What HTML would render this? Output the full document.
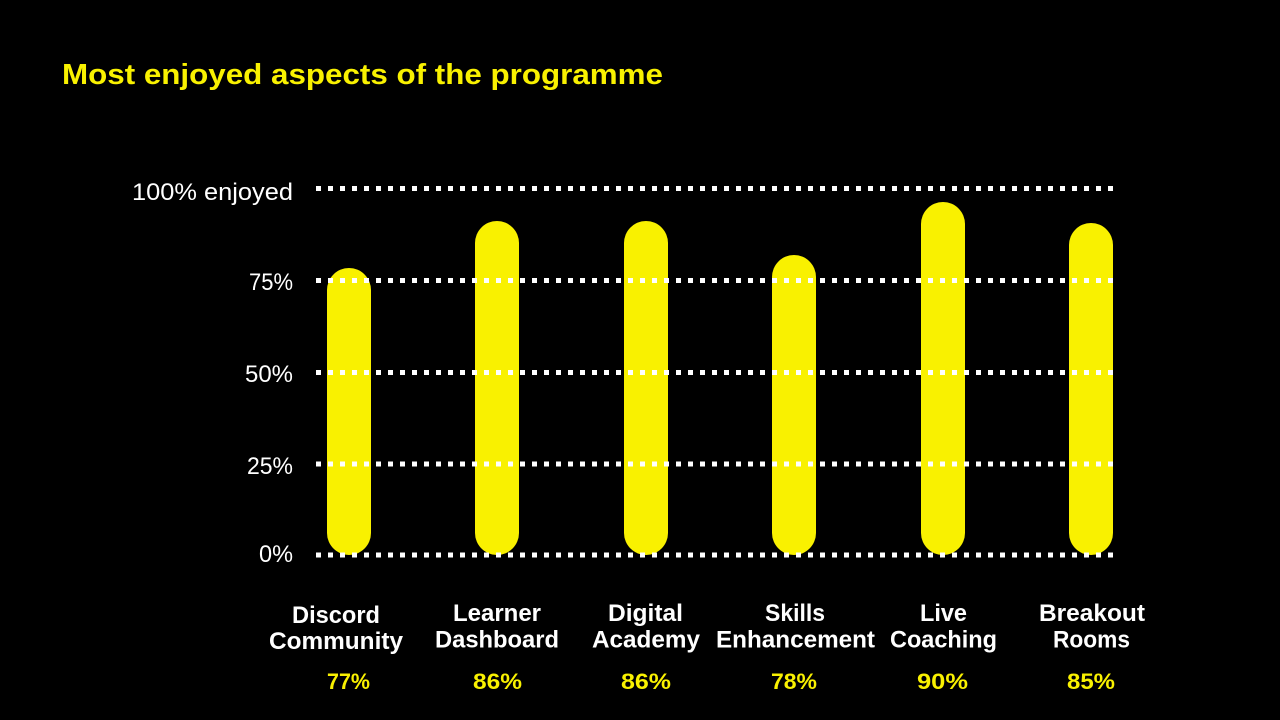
<!DOCTYPE html>
<html>
<head>
<meta charset="utf-8">
<style>
  html, body { margin:0; padding:0; background:#000; }
  body { width:1280px; height:720px; overflow:hidden; }
  svg { display:block; }
  .tick { font-family:"Liberation Sans", sans-serif; font-size:24px; fill:#fff; }
  .cat { font-family:"Liberation Sans", sans-serif; font-weight:bold; font-size:24px; fill:#fff; }
  .pct { font-family:"Liberation Sans", sans-serif; font-weight:bold; font-size:22px; fill:#F9F100; }
  .title { font-family:"Liberation Sans", sans-serif; font-weight:bold; font-size:29px; fill:#F9F100; }
</style>
</head>
<body>
<svg width="1280" height="720" viewBox="0 0 1280 720" xmlns="http://www.w3.org/2000/svg">
  <rect width="1280" height="720" fill="#000"/>

  <text class="title" x="62" y="84" textLength="601" lengthAdjust="spacingAndGlyphs">Most enjoyed aspects of the programme</text>

  <!-- bars -->
  <g fill="#F9F100">
    <rect x="327" y="268" width="44" height="287" rx="22" ry="22"/>
    <rect x="475" y="221" width="44" height="334" rx="22" ry="22"/>
    <rect x="624" y="221" width="44" height="334" rx="22" ry="22"/>
    <rect x="772" y="255" width="44" height="300" rx="22" ry="22"/>
    <rect x="921" y="202" width="44" height="353" rx="22" ry="22"/>
    <rect x="1069" y="223" width="44" height="332" rx="22" ry="22"/>
  </g>

  <!-- dotted gridlines -->
  <g stroke="#fff" stroke-width="5" stroke-dasharray="5 7" fill="none">
    <line x1="316" y1="188.5" x2="1114" y2="188.5"/>
    <line x1="316" y1="280.5" x2="1114" y2="280.5"/>
    <line x1="316" y1="372.5" x2="1114" y2="372.5"/>
    <line x1="316" y1="464" x2="1114" y2="464"/>
    <line x1="316" y1="555" x2="1114" y2="555"/>
  </g>

  <!-- tick labels -->
  <text class="tick" x="132" y="200" textLength="161" lengthAdjust="spacingAndGlyphs">100% enjoyed</text>
  <text class="tick" x="249" y="290" textLength="44" lengthAdjust="spacingAndGlyphs">75%</text>
  <text class="tick" x="245" y="382" textLength="48" lengthAdjust="spacingAndGlyphs">50%</text>
  <text class="tick" x="247" y="474" textLength="46" lengthAdjust="spacingAndGlyphs">25%</text>
  <text class="tick" x="259" y="562" textLength="34" lengthAdjust="spacingAndGlyphs">0%</text>

  <!-- category labels -->
  <text class="cat" x="292" y="623" textLength="88" lengthAdjust="spacingAndGlyphs">Discord</text>
  <text class="cat" x="269" y="649" textLength="134" lengthAdjust="spacingAndGlyphs">Community</text>

  <text class="cat" x="453" y="621" textLength="88" lengthAdjust="spacingAndGlyphs">Learner</text>
  <text class="cat" x="435" y="647.5" textLength="124" lengthAdjust="spacingAndGlyphs">Dashboard</text>

  <text class="cat" x="608" y="621" textLength="75" lengthAdjust="spacingAndGlyphs">Digital</text>
  <text class="cat" x="592" y="647.5" textLength="108" lengthAdjust="spacingAndGlyphs">Academy</text>

  <text class="cat" x="765" y="621" textLength="60" lengthAdjust="spacingAndGlyphs">Skills</text>
  <text class="cat" x="716" y="647.5" textLength="159" lengthAdjust="spacingAndGlyphs">Enhancement</text>

  <text class="cat" x="920" y="621" textLength="47" lengthAdjust="spacingAndGlyphs">Live</text>
  <text class="cat" x="890" y="647.5" textLength="107" lengthAdjust="spacingAndGlyphs">Coaching</text>

  <text class="cat" x="1039" y="621" textLength="106" lengthAdjust="spacingAndGlyphs">Breakout</text>
  <text class="cat" x="1053" y="647.5" textLength="77" lengthAdjust="spacingAndGlyphs">Rooms</text>

  <!-- percentages -->
  <text class="pct" x="327" y="689" textLength="43" lengthAdjust="spacingAndGlyphs">77%</text>
  <text class="pct" x="473" y="689" textLength="49" lengthAdjust="spacingAndGlyphs">86%</text>
  <text class="pct" x="621" y="689" textLength="50" lengthAdjust="spacingAndGlyphs">86%</text>
  <text class="pct" x="771" y="689" textLength="46" lengthAdjust="spacingAndGlyphs">78%</text>
  <text class="pct" x="917" y="689" textLength="51" lengthAdjust="spacingAndGlyphs">90%</text>
  <text class="pct" x="1067" y="689" textLength="48" lengthAdjust="spacingAndGlyphs">85%</text>
</svg>
</body>
</html>
